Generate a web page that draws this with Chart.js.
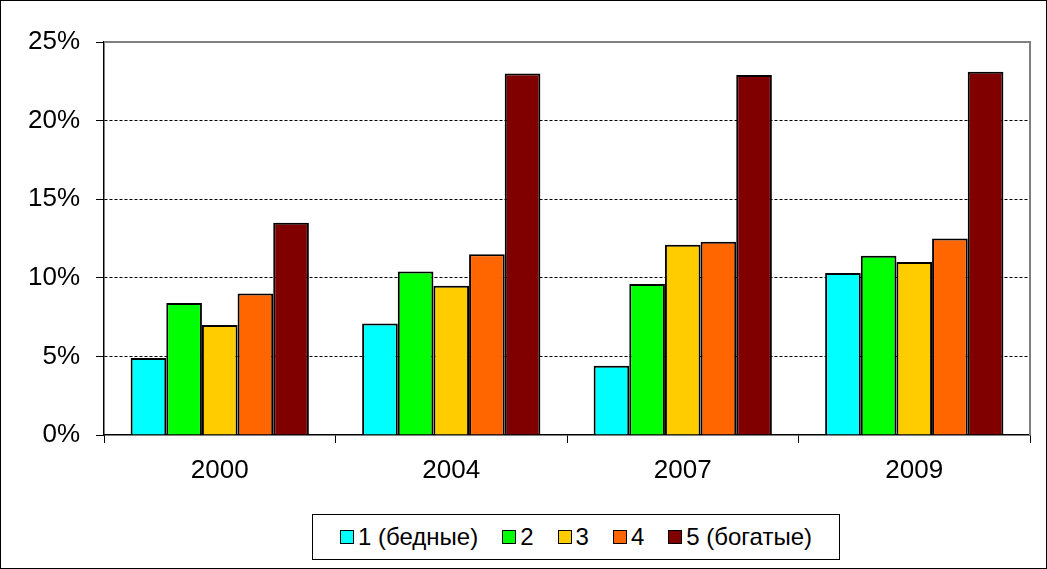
<!DOCTYPE html>
<html>
<head>
<meta charset="utf-8">
<script src="https://cdn.jsdelivr.net/npm/chart.js@4"></script>
<style>
  body { margin: 0; background: #fff; }
  #wrap { position: relative; width: 1047px; height: 569px; }
  #legend {
    position: absolute; left: 312px; top: 514px; width: 528px; height: 46px;
    border: 1px solid #000; box-sizing: border-box; background: #fff;
    display: flex; align-items: center; justify-content: center;
    font-family: "Liberation Sans", Arial, sans-serif; font-size: 24px; color: #000;
  }
  #legend span.item { display: flex; align-items: center; margin: 0 12px; }
  #legend span.box { width: 12px; height: 12px; border: 1px solid #000; margin-right: 4px; }
</style>
</head>
<body>
<div id="wrap">
  <canvas id="chart" width="1047" height="569"></canvas>
  <div id="legend"></div>
</div>
<script>
'use strict';

const years = ['2000', '2004', '2007', '2009'];
const seriesNames = ['1 (бедные)', '2', '3', '4', '5 (богатые)'];
const seriesColors = ['#00FFFF', '#00FF00', '#FFCC00', '#FF6600', '#800000'];
const q1 = [4.9, 7.1, 4.4, 10.3];
const q2 = [8.4, 10.4, 9.6, 11.4];
const q3 = [7.0, 9.5, 12.1, 11.0];
const q4 = [9.0, 11.5, 12.3, 12.5];
const q5 = [13.5, 23.0, 22.9, 23.1];
const yTicks = [0, 5, 10, 15, 20, 25];

const allValues = [q1, q2, q3, q4, q5];
const font = "'Liberation Sans', Arial, sans-serif";

// white bg, grey plot border, outer frame
const framePlugin = {
  id: 'frame',
  beforeDraw(chart) {
    const ctx = chart.ctx;
    ctx.save();
    ctx.fillStyle = '#fff';
    ctx.fillRect(0, 0, chart.width, chart.height);
    ctx.restore();
  },
  afterDraw(chart) {
    const ctx = chart.ctx;
    const a = chart.chartArea;
    ctx.save();
    ctx.strokeStyle = '#808080';
    ctx.lineWidth = 2;
    ctx.beginPath();
    ctx.moveTo(a.left, a.top);
    ctx.lineTo(a.right, a.top);
    ctx.lineTo(a.right, a.bottom);
    ctx.stroke();
    ctx.strokeStyle = '#000';
    ctx.lineWidth = 1;
    ctx.strokeRect(0.5, 0.5, chart.width - 1, chart.height - 1);
    ctx.restore();
  }
};

let datasets = [];
for (let i = 0; i < seriesNames.length; i++) {
  datasets.push({
    label: seriesNames[i],
    data: allValues[i],
    backgroundColor: seriesColors[i],
    borderColor: '#000',
    borderWidth: 2,
    barPercentage: 1,
    categoryPercentage: 0.77
  });
}

new Chart(document.getElementById('chart'), {
  type: 'bar',
  data: { labels: years, datasets: datasets },
  plugins: [framePlugin],
  options: {
    responsive: false,
    animation: false,
    layout: { padding: { left: 0, right: 17, top: 42, bottom: 0 } },
    plugins: { legend: { display: false }, tooltip: { enabled: false } },
    scales: {
      x: {
        afterFit(s) { s.height = 134; },
        grid: { drawOnChartArea: false, color: '#000', tickLength: 8, offset: true },
        border: { color: '#000', width: 1.5 },
        ticks: { color: '#000', font: { family: font, size: 26 }, padding: 12 }
      },
      y: {
        min: 0, max: 25,
        afterFit(s) { s.width = 104; },
        afterBuildTicks(s) { s.ticks = yTicks.map(v => ({ value: v })); },
        grid: {
          color: c => (c.tick && (c.tick.value === 0 || c.tick.value === 25)) ? 'rgba(0,0,0,0)' : '#000',
          tickColor: '#000',
          tickLength: 8,
          lineWidth: 1
        },
        border: { color: '#000', width: 1.5, dash: [3, 2] },
        ticks: {
          color: '#000', padding: 16,
          font: { family: font, size: 26 },
          callback: v => v + '%'
        }
      }
    }
  }
});

// legend built from the same arrays
const legendEl = document.getElementById('legend');
for (let i = 0; i < seriesNames.length; i++) {
  const item = document.createElement('span');
  item.className = 'item';
  const box = document.createElement('span');
  box.className = 'box';
  box.style.background = seriesColors[i];
  item.appendChild(box);
  item.appendChild(document.createTextNode(seriesNames[i]));
  legendEl.appendChild(item);
}
</script>
</body>
</html>
